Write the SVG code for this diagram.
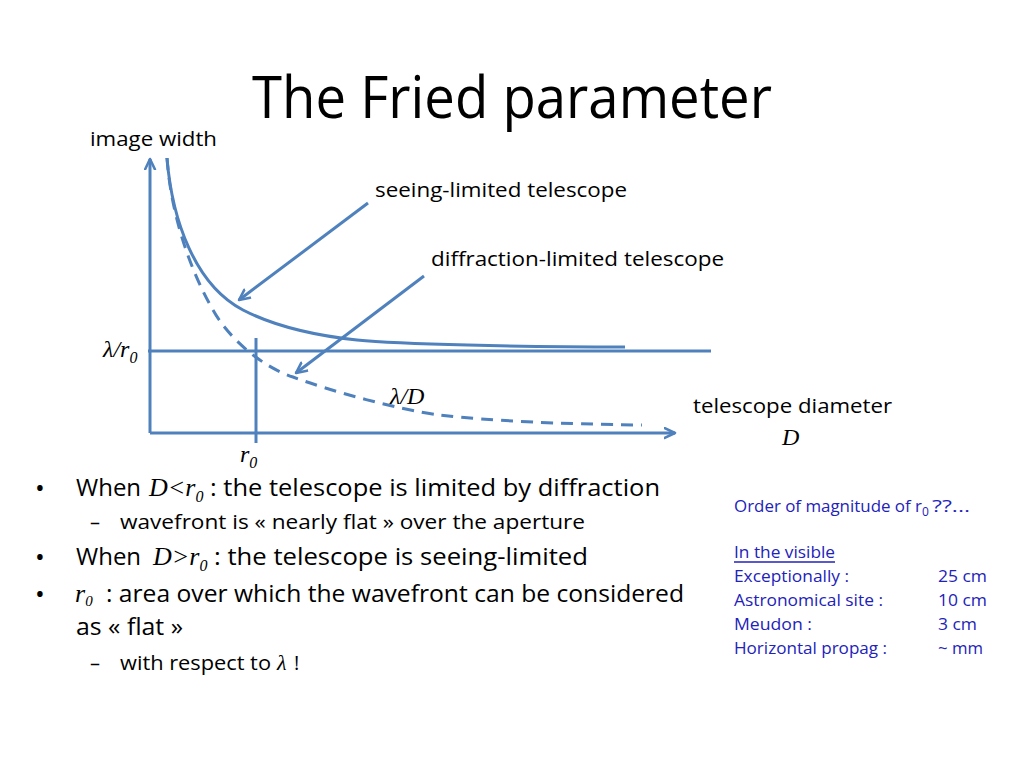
<svg xmlns="http://www.w3.org/2000/svg" width="1024" height="768" viewBox="0 0 1024 768">
<defs>
<style>
.ln{fill:none;stroke:#4F81BD;stroke-width:3;stroke-linecap:butt}
.sans{font-family:"Open Sans","Liberation Sans",sans-serif;fill:#000}
.ser{font-family:"Liberation Serif","DejaVu Serif",serif;font-style:italic;fill:#000}
.blue{font-family:"Open Sans","Liberation Sans",sans-serif;fill:#2222BB;font-size:17px}
</style>
<marker id="arr" viewBox="0 0 12 12" refX="10.5" refY="6" markerWidth="13" markerHeight="13" markerUnits="userSpaceOnUse" orient="auto">
<path d="M1,1.5 L10.5,6 L1,10.5" fill="none" stroke="#4F81BD" stroke-width="2.4" stroke-linecap="round" stroke-linejoin="round"/>
</marker>
</defs>
<rect width="1024" height="768" fill="#fff"/>

<text class="sans" x="252" y="118" font-size="58" textLength="520" lengthAdjust="spacingAndGlyphs">The Fried parameter</text>

<g id="connectors">
<line class="ln" x1="150" y1="433" x2="150" y2="159" marker-end="url(#arr)"/>
<line class="ln" x1="150" y1="433" x2="675" y2="433" marker-end="url(#arr)"/>
<line class="ln" x1="148" y1="351" x2="711" y2="351"/>
<line class="ln" x1="256" y1="338" x2="256" y2="443"/>
<path class="ln" d="M167,158 C172,220 195,285 243,310 C276,327 320,336 357,340 C400,344.3 520,347 625,347"/>
<path class="ln" stroke-dasharray="12 8" d="M167,158 C171,215 190,270 213,310 C228,337 260,366 293,377 C330,391 400,410 440,415 C490,421 560,424 642,425"/>
<line class="ln" x1="368" y1="203" x2="239" y2="300" marker-end="url(#arr)"/>
<line class="ln" x1="424" y1="276" x2="296" y2="373" marker-end="url(#arr)"/>
</g>

<g id="axis-labels">
<text class="sans" x="90" y="146" font-size="20" textLength="127" lengthAdjust="spacingAndGlyphs">image width</text>
<text class="sans" x="375" y="197" font-size="20" textLength="252" lengthAdjust="spacingAndGlyphs">seeing-limited telescope</text>
<text class="sans" x="431" y="266" font-size="20" textLength="293" lengthAdjust="spacingAndGlyphs">diffraction-limited telescope</text>
<text class="sans" x="693" y="413" font-size="20" textLength="199" lengthAdjust="spacingAndGlyphs">telescope diameter</text>
<text class="ser" x="782" y="445" font-size="24">D</text>
<text class="ser" x="103" y="357" font-size="24">λ/r<tspan font-size="16" dy="6">0</tspan></text>
<text class="ser" x="240" y="462" font-size="24">r<tspan font-size="16" dy="6">0</tspan></text>
<text class="ser" x="390" y="404" font-size="24">λ/D</text>
</g>

<g id="bullets">
<text class="sans" x="35" y="497" font-size="26">•</text>
<text class="sans" x="76" y="496" font-size="24">When</text>
<text class="ser" x="149" y="496" font-size="26">D&lt;r<tspan font-size="16" dy="6">0</tspan></text>
<text class="sans" x="210" y="496" font-size="24" textLength="450" lengthAdjust="spacingAndGlyphs">: the telescope is limited by diffraction</text>

<text class="sans" x="90" y="529" font-size="20">–</text>
<text class="sans" x="120" y="529" font-size="20" textLength="465" lengthAdjust="spacingAndGlyphs">wavefront is « nearly flat » over the aperture</text>

<text class="sans" x="35" y="566" font-size="26">•</text>
<text class="sans" x="76" y="565" font-size="24">When</text>
<text class="ser" x="153" y="565" font-size="26">D&gt;r<tspan font-size="16" dy="6">0</tspan></text>
<text class="sans" x="214" y="565" font-size="24" textLength="374" lengthAdjust="spacingAndGlyphs">: the telescope is seeing-limited</text>

<text class="sans" x="35" y="603" font-size="26">•</text>
<text class="ser" x="75" y="602" font-size="26">r<tspan font-size="15" dy="4">0</tspan></text>
<text class="sans" x="106" y="602" font-size="24" textLength="578" lengthAdjust="spacingAndGlyphs">: area over which the wavefront can be considered</text>
<text class="sans" x="76" y="635" font-size="23" textLength="107" lengthAdjust="spacingAndGlyphs">as « flat »</text>

<text class="sans" x="90" y="670" font-size="20">–</text>
<text class="sans" x="120" y="670" font-size="20" textLength="151" lengthAdjust="spacingAndGlyphs">with respect to</text>
<text class="ser" x="277" y="670" font-size="22">λ</text>
<text class="sans" x="294" y="670" font-size="20">!</text>
</g>

<g id="note">
<text class="blue" x="734" y="512"><tspan textLength="188" lengthAdjust="spacingAndGlyphs">Order of magnitude of r</tspan><tspan font-size="12" dy="4">0</tspan><tspan dy="-4" x="932" textLength="38" lengthAdjust="spacingAndGlyphs">??...</tspan></text>
<text class="blue" x="734" y="558" textLength="101" lengthAdjust="spacingAndGlyphs">In the visible</text>
<line x1="734" y1="562" x2="835" y2="562" stroke="#2222BB" stroke-width="1.3"/>
<text class="blue" x="734" y="582" textLength="115" lengthAdjust="spacingAndGlyphs">Exceptionally :</text>
<text class="blue" x="938" y="582" textLength="49" lengthAdjust="spacingAndGlyphs">25 cm</text>
<text class="blue" x="734" y="606" textLength="149" lengthAdjust="spacingAndGlyphs">Astronomical site :</text>
<text class="blue" x="938" y="606" textLength="49" lengthAdjust="spacingAndGlyphs">10 cm</text>
<text class="blue" x="734" y="630" textLength="78" lengthAdjust="spacingAndGlyphs">Meudon :</text>
<text class="blue" x="938" y="630" textLength="39" lengthAdjust="spacingAndGlyphs">3 cm</text>
<text class="blue" x="734" y="654" textLength="153" lengthAdjust="spacingAndGlyphs">Horizontal propag :</text>
<text class="blue" x="938" y="654" textLength="45" lengthAdjust="spacingAndGlyphs">~ mm</text>
</g>
</svg>
